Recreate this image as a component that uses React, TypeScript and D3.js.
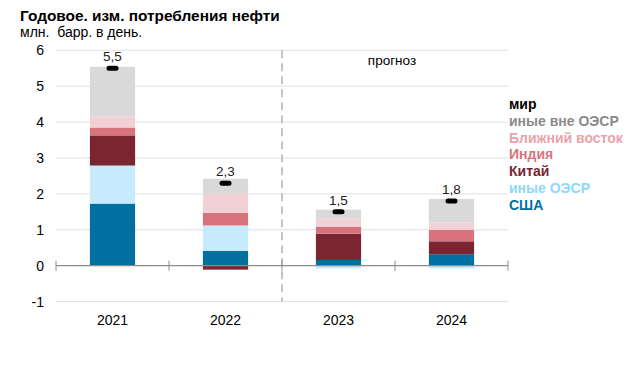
// React import
import { useRef, useEffect } from "react";
// D3 import
import * as d3 from "d3";

// years on the x axis
const years = ["2021", "2022", "2023", "2024"];

// series values, mb/d
const usa = [1.73, 0.41, 0.16, 0.32];
const otherOecd = [1.06, 0.71, -0.08, -0.08];
const china = [0.84, -0.11, 0.73, 0.36];
const india = [0.22, 0.35, 0.19, 0.32];
const middleEast = [0.31, 0.54, 0.23, 0.2];
const otherNonOecd = [1.38, 0.41, 0.25, 0.66];

// world totals (black markers + labels)
const world = [5.5, 2.3, 1.5, 1.8];
const worldLabels = ["5,5", "2,3", "1,5", "1,8"];

const yTicks = [-1, 0, 1, 2, 3, 4, 5, 6];

const seriesKeys = ["usa", "otherOecd", "china", "india", "middleEast", "otherNonOecd"];
const seriesColors: Record<string, string> = {
  usa: "#0070a0",
  otherOecd: "#c5ebfc",
  china: "#7a2530",
  india: "#d8737e",
  middleEast: "#f2d1d6",
  otherNonOecd: "#d9d9d9",
};

// legend, top to bottom
const legendNames = ["мир", "иные вне ОЭСР", "Ближний восток", "Индия", "Китай", "иные ОЭСР", "США"];
const legendColors = ["#000000", "#8a8a8a", "#e9a3ab", "#d8737e", "#7a2530", "#8ed7fb", "#0070a0"];

const FONT = "'Liberation Sans', Arial, sans-serif";

function draw(ref: SVGSVGElement | null) {
  const svg = d3.select(ref);
  const g = svg.append("g");

  const x = d3.scaleBand<string>().domain(years).range([56, 508]).padding(0);
  const y = d3.scaleLinear().domain([-1, 6]).range([301.6, 50.3]);
  const barW = x.bandwidth() * 0.4;

  // title
  g.append("text")
    .attr("x", 20)
    .attr("y", 21)
    .attr("font-family", FONT)
    .attr("font-size", 15.4)
    .attr("font-weight", "bold")
    .attr("fill", "#000")
    .text("Годовое. изм. потребления нефти");
  g.append("text")
    .attr("x", 20)
    .attr("y", 37)
    .attr("font-family", FONT)
    .attr("font-size", 14)
    .attr("fill", "#000")
    .attr("xml:space", "preserve")
    .text("млн.  барр. в день.");

  // grid lines
  g.append("g")
    .selectAll("line")
    .data(yTicks.filter((t) => t !== 0))
    .join("line")
    .attr("x1", 56)
    .attr("x2", 508)
    .attr("y1", (d) => y(d))
    .attr("y2", (d) => y(d))
    .attr("stroke", "#e0e0e0")
    .attr("stroke-width", 1);

  // y labels
  g.append("g")
    .selectAll("text")
    .data(yTicks)
    .join("text")
    .attr("x", 44)
    .attr("y", (d) => y(d) + 5)
    .attr("text-anchor", "end")
    .attr("font-family", FONT)
    .attr("font-size", 14)
    .attr("fill", "#000")
    .text((d) => String(d));

  // forecast divider
  g.append("line")
    .attr("x1", x("2023")!)
    .attr("x2", x("2023")!)
    .attr("y1", y(6))
    .attr("y2", y(-1))
    .attr("stroke", "#a6a6a6")
    .attr("stroke-width", 1.3)
    .attr("stroke-dasharray", "8,5");
  g.append("text")
    .attr("x", 392)
    .attr("y", 65)
    .attr("text-anchor", "middle")
    .attr("font-family", FONT)
    .attr("font-size", 13.5)
    .attr("fill", "#000")
    .text("прогноз");

  // stacked bars
  const rows = years.map((yr, i) => ({
    year: yr,
    usa: usa[i],
    otherOecd: otherOecd[i],
    china: china[i],
    india: india[i],
    middleEast: middleEast[i],
    otherNonOecd: otherNonOecd[i],
  }));
  const stacked = d3
    .stack<any>()
    .keys(seriesKeys)
    .offset(d3.stackOffsetDiverging)(rows);

  g.append("g")
    .selectAll("g")
    .data(stacked)
    .join("g")
    .attr("fill", (s) => seriesColors[s.key])
    .selectAll("rect")
    .data((s) => s)
    .join("rect")
    .attr("x", (d: any) => x(d.data.year)! + (x.bandwidth() - barW) / 2)
    .attr("width", barW)
    .attr("y", (d) => y(Math.max(d[0], d[1])))
    .attr("height", (d) => Math.abs(y(d[0]) - y(d[1])));

  // zero axis with ticks
  const axis = g.append("g");
  axis
    .append("line")
    .attr("x1", 56)
    .attr("x2", 508)
    .attr("y1", y(0))
    .attr("y2", y(0))
    .attr("stroke", "#8c8c8c")
    .attr("stroke-width", 1.3);
  axis
    .selectAll("line.tick")
    .data([...years.map((yr) => x(yr)!), 508])
    .join("line")
    .attr("class", "tick")
    .attr("x1", (d) => d)
    .attr("x2", (d) => d)
    .attr("y1", y(0) - 5)
    .attr("y2", y(0) + 5)
    .attr("stroke", "#8c8c8c")
    .attr("stroke-width", 1);

  // x labels
  g.append("g")
    .selectAll("text")
    .data(years)
    .join("text")
    .attr("x", (d) => x(d)! + x.bandwidth() / 2)
    .attr("y", 325)
    .attr("text-anchor", "middle")
    .attr("font-family", FONT)
    .attr("font-size", 14)
    .attr("fill", "#000")
    .text((d) => d);

  // world markers
  g.append("g")
    .selectAll("rect")
    .data(world)
    .join("rect")
    .attr("x", (_d, i) => x(years[i])! + x.bandwidth() / 2 - 6)
    .attr("y", (d) => y(d) - 2.5)
    .attr("width", 12)
    .attr("height", 5)
    .attr("rx", 2.5)
    .attr("fill", "#000");
  g.append("g")
    .selectAll("text")
    .data(world)
    .join("text")
    .attr("x", (_d, i) => x(years[i])! + x.bandwidth() / 2)
    .attr("y", (d) => y(d) - 7)
    .attr("text-anchor", "middle")
    .attr("font-family", FONT)
    .attr("font-size", 13.5)
    .attr("fill", "#222")
    .text((_d, i) => worldLabels[i]);

  // legend
  g.append("g")
    .selectAll("text")
    .data(legendNames)
    .join("text")
    .attr("x", 509)
    .attr("y", (_d, i) => 109 + i * 16.8)
    .attr("font-family", FONT)
    .attr("font-size", 14)
    .attr("font-weight", "bold")
    .attr("fill", (_d, i) => legendColors[i])
    .text((d) => d);

  return () => {
    g.remove();
  };
}

export default function App() {
  const ref = useRef<SVGSVGElement>(null);

  useEffect(() => {
    return draw(ref.current);
  }, []);

  return (
    <svg
      ref={ref}
      width={630}
      height={370}
      style={{ position: "absolute", left: 0, top: 0, background: "#fff" }}
    ></svg>
  );
}
